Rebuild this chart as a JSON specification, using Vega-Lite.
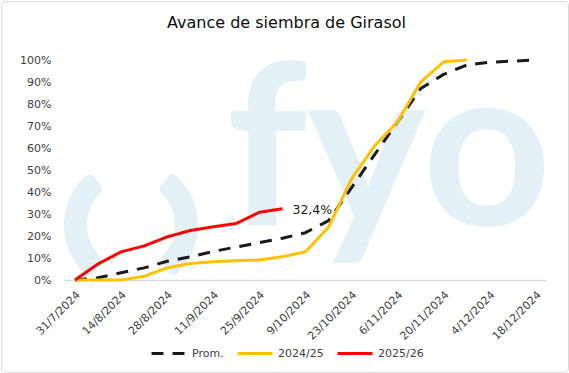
{
  "$schema": "https://vega.github.io/schema/vega-lite/v6.json",
  "width": 567,
  "height": 371,
  "padding": 1,
  "autosize": {"type": "none"},
  "background": "#ffffff",
  "config": {
    "locale": {"number": {"decimal": ",", "thousands": ".", "grouping": [3], "currency": ["", " €"]}},
    "view": {"stroke": "#d9d9d9", "strokeWidth": 1, "cornerRadius": 4},
    "font": "DejaVu Sans"
  },
  "title": {
    "text": "Avance de siembra de Girasol",
    "font": "DejaVu Sans",
    "fontSize": 16,
    "fontWeight": "normal",
    "color": "#0d0d0d",
    "anchor": "middle",
    "offset": -30,
    "dx": 2
  },
  "datasets": {
    "main": [
      {"series": "Prom.", "date": "2024-07-31", "value": 0},
      {"series": "Prom.", "date": "2024-08-07", "value": 0.01},
      {"series": "Prom.", "date": "2024-08-14", "value": 0.033},
      {"series": "Prom.", "date": "2024-08-21", "value": 0.055},
      {"series": "Prom.", "date": "2024-08-28", "value": 0.085},
      {"series": "Prom.", "date": "2024-09-04", "value": 0.105},
      {"series": "Prom.", "date": "2024-09-11", "value": 0.13},
      {"series": "Prom.", "date": "2024-09-18", "value": 0.15},
      {"series": "Prom.", "date": "2024-09-25", "value": 0.17},
      {"series": "Prom.", "date": "2024-10-02", "value": 0.19},
      {"series": "Prom.", "date": "2024-10-09", "value": 0.215},
      {"series": "Prom.", "date": "2024-10-16", "value": 0.27},
      {"series": "Prom.", "date": "2024-10-23", "value": 0.42},
      {"series": "Prom.", "date": "2024-10-30", "value": 0.57},
      {"series": "Prom.", "date": "2024-11-06", "value": 0.72},
      {"series": "Prom.", "date": "2024-11-13", "value": 0.87},
      {"series": "Prom.", "date": "2024-11-20", "value": 0.935},
      {"series": "Prom.", "date": "2024-11-27", "value": 0.977},
      {"series": "Prom.", "date": "2024-12-04", "value": 0.99},
      {"series": "Prom.", "date": "2024-12-11", "value": 0.995},
      {"series": "Prom.", "date": "2024-12-18", "value": 1.0},
      {"series": "2024/25", "date": "2024-07-31", "value": 0},
      {"series": "2024/25", "date": "2024-08-07", "value": 0},
      {"series": "2024/25", "date": "2024-08-14", "value": 0},
      {"series": "2024/25", "date": "2024-08-21", "value": 0.017},
      {"series": "2024/25", "date": "2024-08-28", "value": 0.055},
      {"series": "2024/25", "date": "2024-09-04", "value": 0.075},
      {"series": "2024/25", "date": "2024-09-11", "value": 0.083},
      {"series": "2024/25", "date": "2024-09-18", "value": 0.088},
      {"series": "2024/25", "date": "2024-09-25", "value": 0.091},
      {"series": "2024/25", "date": "2024-10-02", "value": 0.106},
      {"series": "2024/25", "date": "2024-10-09", "value": 0.128},
      {"series": "2024/25", "date": "2024-10-16", "value": 0.24},
      {"series": "2024/25", "date": "2024-10-23", "value": 0.46},
      {"series": "2024/25", "date": "2024-10-30", "value": 0.61},
      {"series": "2024/25", "date": "2024-11-06", "value": 0.72},
      {"series": "2024/25", "date": "2024-11-13", "value": 0.9},
      {"series": "2024/25", "date": "2024-11-20", "value": 0.992},
      {"series": "2024/25", "date": "2024-11-27", "value": 1.0},
      {"series": "2025/26", "date": "2024-07-31", "value": 0},
      {"series": "2025/26", "date": "2024-08-07", "value": 0.073},
      {"series": "2025/26", "date": "2024-08-14", "value": 0.128},
      {"series": "2025/26", "date": "2024-08-21", "value": 0.155},
      {"series": "2025/26", "date": "2024-08-28", "value": 0.196},
      {"series": "2025/26", "date": "2024-09-04", "value": 0.225},
      {"series": "2025/26", "date": "2024-09-11", "value": 0.242},
      {"series": "2025/26", "date": "2024-09-18", "value": 0.257},
      {"series": "2025/26", "date": "2024-09-25", "value": 0.308},
      {"series": "2025/26", "date": "2024-10-02", "value": 0.324}
    ],
    "logo": [{"date": "2024-08-17", "value": 0.25}],
    "wm": [{"date": "2024-09-15", "value": 0.25, "txt": "fyo"}],
    "lbl": [{"date": "2024-10-02", "value": 0.324}]
  },
  "encoding": {
    "x": {
      "field": "date",
      "type": "temporal",
      "scale": {
        "type": "utc",
        "domain": [
          {"year": 2024, "month": 7, "date": 27, "hours": 16, "utc": true},
          {"year": 2024, "month": 12, "date": 21, "hours": 1, "utc": true}
        ],
        "range": [63, 545]
      },
      "axis": {
        "values": [
          {"year": 2024, "month": 7, "date": 31, "utc": true},
          {"year": 2024, "month": 8, "date": 14, "utc": true},
          {"year": 2024, "month": 8, "date": 28, "utc": true},
          {"year": 2024, "month": 9, "date": 11, "utc": true},
          {"year": 2024, "month": 9, "date": 25, "utc": true},
          {"year": 2024, "month": 10, "date": 9, "utc": true},
          {"year": 2024, "month": 10, "date": 23, "utc": true},
          {"year": 2024, "month": 11, "date": 6, "utc": true},
          {"year": 2024, "month": 11, "date": 20, "utc": true},
          {"year": 2024, "month": 12, "date": 4, "utc": true},
          {"year": 2024, "month": 12, "date": 18, "utc": true}
        ],
        "format": "%-d/%-m/%Y",
        "labelAngle": -45,
        "labelAlign": "right",
        "labelBaseline": "middle",
        "labelFontSize": 11,
        "labelColor": "#404040",
        "labelPadding": 13,
        "labelOffset": 3,
        "labelOverlap": false,
        "labelBound": false,
        "labelFlush": false,
        "ticks": false,
        "grid": false,
        "domainColor": "#d9d9d9",
        "domainWidth": 1.5,
        "title": null,
        "offset": -92
      }
    },
    "y": {
      "field": "value",
      "type": "quantitative",
      "scale": {"domain": [0, 1], "range": [279, 59], "nice": false, "zero": true},
      "axis": {
        "values": [0, 0.1, 0.2, 0.3, 0.4, 0.5, 0.6, 0.7, 0.8, 0.9, 1],
        "format": ".0%",
        "domain": false,
        "ticks": false,
        "grid": false,
        "title": null,
        "labelFontSize": 11,
        "labelColor": "#404040",
        "labelPadding": 0,
        "offset": -50
      }
    }
  },
  "layer": [
    {
      "data": {"name": "logo"},
      "mark": {"type": "arc", "outerRadius": 67, "innerRadius": 44, "theta": 3.8, "theta2": 5.63, "cornerRadius": 6, "color": "#e3f0f5"}
    },
    {
      "data": {"name": "logo"},
      "mark": {"type": "arc", "outerRadius": 67, "innerRadius": 44, "theta": 0.65, "theta2": 2.48, "cornerRadius": 6, "color": "#e3f0f5"}
    },
    {
      "data": {"name": "wm"},
      "mark": {"type": "text", "font": "Lato", "fontWeight": "bold", "fontSize": 225, "align": "left", "baseline": "alphabetic", "color": "#e3f0f5"},
      "encoding": {"text": {"field": "txt", "type": "nominal"}}
    },
    {
      "data": {"name": "main"},
      "mark": {"type": "line", "strokeWidth": 3, "strokeCap": "butt", "strokeJoin": "round"},
      "encoding": {
        "color": {
          "field": "series",
          "type": "nominal",
          "scale": {"domain": ["Prom.", "2024/25", "2025/26"], "range": ["#1a1a1a", "#ffc000", "#ff0000"]},
          "legend": {
            "orient": "none",
            "legendX": 149,
            "legendY": 333.5,
            "direction": "horizontal",
            "title": null,
            "symbolType": "stroke",
            "symbolSize": 1225,
            "symbolStrokeWidth": 3,
            "labelFontSize": 11,
            "labelColor": "#404040",
            "labelOffset": 4,
            "columnPadding": 7,
            "padding": 0
          }
        },
        "strokeDash": {
          "field": "series",
          "type": "nominal",
          "scale": {"domain": ["Prom.", "2024/25", "2025/26"], "range": [[12, 9], [1, 0], [1, 0]]},
          "legend": {
            "orient": "none",
            "legendX": 149,
            "legendY": 333.5,
            "direction": "horizontal",
            "title": null,
            "symbolType": "stroke",
            "symbolSize": 1225,
            "symbolStrokeWidth": 3,
            "labelFontSize": 11,
            "labelColor": "#404040",
            "labelOffset": 4,
            "columnPadding": 7,
            "padding": 0
          }
        }
      }
    },
    {
      "data": {"name": "lbl"},
      "mark": {"type": "text", "align": "left", "baseline": "middle", "dx": 10, "dy": 1, "fontSize": 12.5, "color": "#1a1a1a"},
      "encoding": {"text": {"field": "value", "type": "quantitative", "format": ".1%"}}
    }
  ]
}
